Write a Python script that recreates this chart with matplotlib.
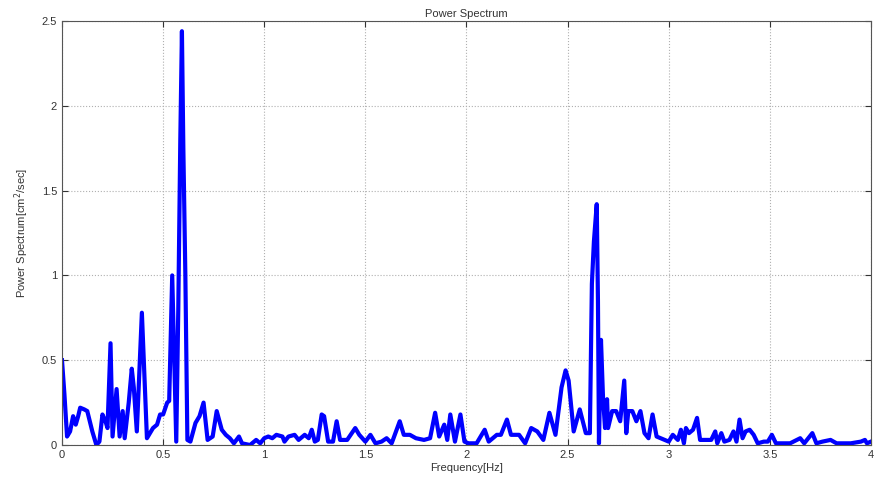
import numpy as np
import matplotlib
matplotlib.use('Agg')
import matplotlib.pyplot as plt
from matplotlib.ticker import FuncFormatter

# frequency [Hz] and power
freq = [0.000, 0.012, 0.025, 0.040, 0.055, 0.068, 0.080, 0.090, 0.110, 0.125,
        0.150, 0.170, 0.185, 0.200, 0.215, 0.225, 0.240, 0.250, 0.270, 0.285,
        0.300, 0.310, 0.330, 0.345, 0.355, 0.370, 0.395, 0.420, 0.450, 0.470,
        0.485, 0.500, 0.520, 0.530, 0.545, 0.555, 0.565, 0.575, 0.585, 0.593,
        0.600, 0.610, 0.620, 0.635, 0.660, 0.680, 0.700, 0.720, 0.745, 0.765,
        0.790, 0.810, 0.830, 0.850, 0.875, 0.890, 0.930, 0.960, 0.980, 1.000,
        1.020, 1.040, 1.060, 1.090, 1.100, 1.120, 1.150, 1.170, 1.200, 1.220,
        1.235, 1.250, 1.265, 1.284, 1.296, 1.316, 1.340, 1.358, 1.375, 1.410,
        1.450, 1.470, 1.500, 1.525, 1.550, 1.580, 1.605, 1.630, 1.670, 1.690,
        1.720, 1.750, 1.790, 1.820, 1.845, 1.865, 1.890, 1.905, 1.920, 1.943,
        1.970, 1.990, 2.010, 2.050, 2.090, 2.110, 2.150, 2.170, 2.200, 2.220,
        2.260, 2.290, 2.320, 2.350, 2.380, 2.410, 2.440, 2.470, 2.490, 2.505,
        2.530, 2.560, 2.590, 2.610, 2.620, 2.630, 2.644, 2.650, 2.655, 2.665,
        2.675, 2.685, 2.695, 2.700, 2.720, 2.740, 2.760, 2.780, 2.790, 2.800,
        2.820, 2.840, 2.860, 2.880, 2.900, 2.920, 2.940, 2.960, 2.980, 3.000,
        3.020, 3.045, 3.060, 3.075, 3.085, 3.100, 3.120, 3.140, 3.155, 3.180,
        3.210, 3.230, 3.240, 3.260, 3.275, 3.300, 3.320, 3.335, 3.350, 3.365,
        3.380, 3.400, 3.420, 3.440, 3.470, 3.490, 3.510, 3.530, 3.560, 3.600,
        3.650, 3.670, 3.710, 3.730, 3.760, 3.800, 3.830, 3.900, 3.950, 3.970,
        3.980, 4.000]
power = [0.50, 0.30, 0.05, 0.08, 0.17, 0.12, 0.17, 0.22, 0.21, 0.20,
         0.08, 0.00, 0.02, 0.18, 0.14, 0.10, 0.60, 0.05, 0.33, 0.05,
         0.20, 0.04, 0.25, 0.45, 0.34, 0.08, 0.78, 0.04, 0.10, 0.12,
         0.18, 0.18, 0.25, 0.26, 1.00, 0.50, 0.02, 0.80, 1.80, 2.44,
         1.75, 1.00, 0.03, 0.02, 0.13, 0.17, 0.25, 0.03, 0.05, 0.20,
         0.09, 0.06, 0.04, 0.01, 0.05, 0.01, 0.00, 0.03, 0.01, 0.04,
         0.05, 0.04, 0.06, 0.05, 0.02, 0.05, 0.06, 0.03, 0.06, 0.04,
         0.09, 0.02, 0.03, 0.18, 0.17, 0.02, 0.02, 0.14, 0.03, 0.03,
         0.10, 0.06, 0.02, 0.06, 0.01, 0.02, 0.04, 0.01, 0.14, 0.06,
         0.06, 0.04, 0.03, 0.04, 0.19, 0.05, 0.12, 0.03, 0.18, 0.02,
         0.18, 0.02, 0.01, 0.01, 0.09, 0.02, 0.06, 0.06, 0.15, 0.06,
         0.06, 0.01, 0.10, 0.08, 0.03, 0.19, 0.06, 0.34, 0.44, 0.38,
         0.08, 0.21, 0.07, 0.07, 0.95, 1.20, 1.42, 0.85, 0.01, 0.62,
         0.28, 0.10, 0.27, 0.10, 0.20, 0.20, 0.14, 0.38, 0.07, 0.20,
         0.20, 0.14, 0.20, 0.07, 0.04, 0.18, 0.05, 0.04, 0.03, 0.02,
         0.06, 0.03, 0.09, 0.01, 0.10, 0.07, 0.09, 0.16, 0.03, 0.03,
         0.03, 0.08, 0.01, 0.07, 0.02, 0.03, 0.08, 0.02, 0.15, 0.04,
         0.08, 0.09, 0.06, 0.01, 0.02, 0.02, 0.06, 0.01, 0.01, 0.01,
         0.04, 0.01, 0.07, 0.01, 0.02, 0.03, 0.01, 0.01, 0.02, 0.03,
         0.01, 0.02]

plt.rcParams['font.family'] = ['Liberation Sans', 'DejaVu Sans']

fig = plt.figure(figsize=(8.83, 4.8), dpi=100)
ax = fig.add_axes([0.0702, 0.0729, 0.9162, 0.8833])

ax.plot(freq, power, color='#0000ff', lw=3.0)

ax.set_xlim(0, 4)
ax.set_ylim(0, 2.5)
ax.set_xticks(np.arange(0, 4.01, 0.5))
ax.set_yticks(np.arange(0, 2.51, 0.5))
fmt = FuncFormatter(lambda v, p: '%g' % v)
ax.xaxis.set_major_formatter(fmt)
ax.yaxis.set_major_formatter(fmt)
ax.tick_params(direction='in', top=True, right=True, labelsize=8,
               colors='#333333', length=4)
ax.grid(True, linestyle=':', color='#b0b0b0', lw=0.8)
for s in ax.spines.values():
    s.set_color('#555555')
    s.set_linewidth(0.8)

ax.set_title('Power Spectrum', fontsize=8, color='#333333', pad=3)
ax.set_xlabel('Frequency[Hz]', fontsize=8, color='#333333', labelpad=2)
ax.set_ylabel('Power Spectrum[cm$^2$/sec]', fontsize=8, color='#333333', labelpad=8)

fig.savefig('out.png', dpi=100)
